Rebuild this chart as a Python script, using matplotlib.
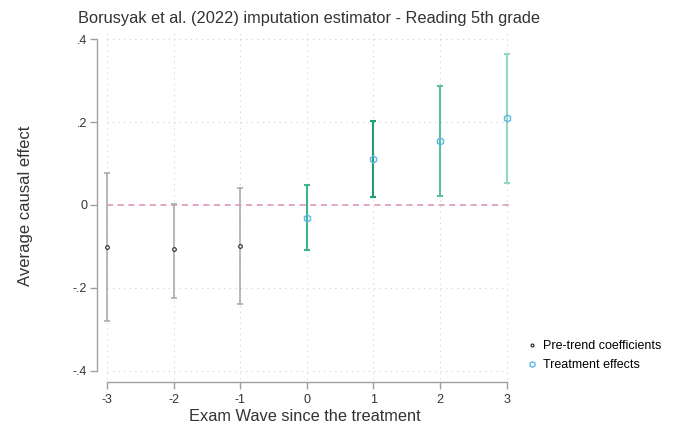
import numpy as np
import matplotlib.pyplot as plt

plt.rcParams['font.family'] = ['Liberation Sans', 'DejaVu Sans']

# event time (exam waves since treatment)
pre_x = [-3, -2, -1]
pre_est = [-0.102, -0.107, -0.099]
pre_lo = [-0.279, -0.224, -0.239]
pre_hi = [0.076, 0.002, 0.040]

post_x = [0, 1, 2, 3]
post_est = [-0.031, 0.110, 0.154, 0.210]
post_lo = [-0.109, 0.019, 0.022, 0.053]
post_hi = [0.047, 0.202, 0.287, 0.365]
post_colors = ['#3db38e', '#1f9e77', '#5cbf9c', '#93d8c0']

xticks = [-3, -2, -1, 0, 1, 2, 3]
yticks = [-0.4, -0.2, 0, 0.2, 0.4]
ytick_labels = ['-.4', '-.2', '0', '.2', '.4']

fig = plt.figure(figsize=(6.76, 4.29), dpi=100)
ax = fig.add_axes([97 / 676, 1 - 382 / 429, 416 / 676, 352 / 429])

# dotted grid
for x in xticks:
    ax.plot([x, x], [-0.42, 0.425], ls=(0, (1, 4)), color='#d0d0d0', lw=0.8, zorder=0)
for y in [-0.4, -0.2, 0.2, 0.4]:
    ax.plot([-3, 3], [y, y], ls=(0, (1, 4)), color='#d0d0d0', lw=0.8, zorder=0)

# zero line
ax.plot([-3, 3.1], [0, 0], ls=(0, (4, 3)), color='#d98fb6', lw=1.1, zorder=1)

# pre-trend coefficients
ax.errorbar(pre_x, pre_est,
            yerr=[np.array(pre_est) - np.array(pre_lo), np.array(pre_hi) - np.array(pre_est)],
            fmt='none', ecolor='#ababab', elinewidth=1.2, capsize=2.2, capthick=1.2, zorder=2)
ax.plot(pre_x, pre_est, 'o', ms=2.6, mfc='white', mec='#222222', mew=0.8, zorder=3,
        label='Pre-trend coefficients')

# treatment effects
for x, e, lo, hi, c in zip(post_x, post_est, post_lo, post_hi, post_colors):
    ax.errorbar([x], [e], yerr=[[e - lo], [hi - e]], fmt='none', ecolor=c,
                elinewidth=1.5, capsize=2.2, capthick=1.5, zorder=2)
ax.plot(post_x, post_est, 'h', ms=5, mfc='none', mec='#5bb8e6', mew=1.0, zorder=3,
        label='Treatment effects')

ax.set_xlim(-3.15, 3.095)
ax.set_ylim(-0.427, 0.422)
ax.set_xticks(xticks)
ax.set_xticklabels([str(v) for v in xticks])
ax.set_yticks(yticks)
ax.set_yticklabels(ytick_labels)

for s in ['top', 'right']:
    ax.spines[s].set_visible(False)
ax.spines['left'].set_bounds(-0.4, 0.4)
ax.spines['bottom'].set_bounds(-3, 3)
for s in ['left', 'bottom']:
    ax.spines[s].set_color('#a0a0a0')
    ax.spines[s].set_linewidth(1.0)
ax.tick_params(colors='#a0a0a0', length=5, width=1.0, labelcolor='#333333', labelsize=9)
ax.tick_params(axis='y', pad=2)

ax.set_xlabel('Exam Wave since the treatment', fontsize=11.8, color='#333333', labelpad=2)
ax.set_ylabel('Average causal effect', fontsize=12, color='#333333', labelpad=29)
fig.text(78 / 676, 1 - 18 / 429, 'Borusyak et al. (2022) imputation estimator - Reading 5th grade',
         fontsize=11.8, color='#333333', va='center', ha='left')

fig.legend(loc='upper left', bbox_to_anchor=(524 / 676, 1 - 335 / 429), frameon=False,
           fontsize=9, handlelength=0.5, handletextpad=0.6, labelspacing=0.55, borderaxespad=0,
           markerscale=0.8)

fig.savefig('out.png', dpi=100)
